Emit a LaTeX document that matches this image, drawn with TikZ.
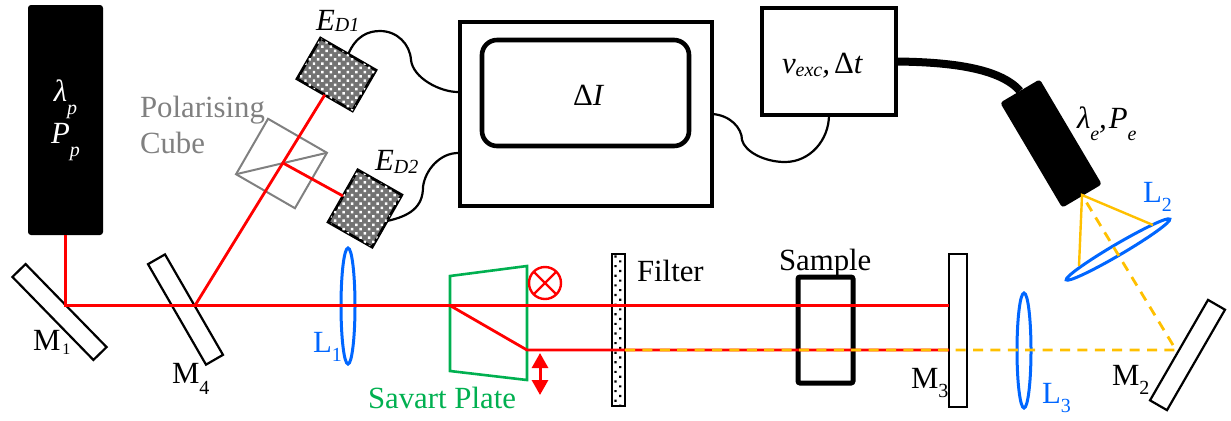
\documentclass[tikz,border=0pt]{standalone}
\usepackage{fontspec}
\setmainfont{Liberation Serif}
\usetikzlibrary{
	arrows.meta,
	patterns,
	patterns.meta,
	shapes.geometric
}
\definecolor{BeamRed}{RGB}{255,0,0}
\definecolor{BeamOrange}{RGB}{255,192,0}
\definecolor{LensBlue}{RGB}{0,102,255}
\definecolor{PlateGreen}{RGB}{0,176,80}
\newcommand{\lowsub}[2][0.32em]{\raisebox{-#1}{\fontsize{10}{10}\selectfont #2}}
\tikzset{
	mirror/.style={draw, line width=1.1pt, inner sep=0, outer sep=0},
	lens/.style={ellipse, draw=LensBlue, line width=1.5pt, inner sep=0, outer sep=0},
	detector/.style={draw, line width=1.4pt, inner sep=0, outer sep=0, fill=black!55, postaction={pattern={Dots[distance=3pt, angle=45, radius=0.85pt]}, pattern color=white}},
	blackbox/.style={fill=black, rounded corners=1.5pt, inner sep=0, outer sep=0},
	unitbox/.style={draw, line width=1.7pt, inner sep=0, outer sep=0},
	wire/.style={line width=1.1pt},
	beam/.style={BeamRed, line width=1.4pt},
	probe/.style={BeamOrange, line width=1.2pt},
	probedash/.style={BeamOrange, line width=1.4pt, dash pattern=on 5pt off 3.7pt},
	txt/.style={anchor=base west, inner sep=0, outer sep=0, font=\fontsize{15.4}{18}\selectfont}
}
\begin{document}
\begin{tikzpicture}[x=0.5pt, y=-0.5pt]
	\useasboundingbox (0,0) rectangle (1231,420);
	% sources and electronics
	\node[blackbox, minimum width=37.5pt, minimum height=115pt, text=white, align=center, font=\fontsize{15.4}{21}\selectfont] (pump) at (65.5,120) {\textit{λ}\lowsub[0.42em]{\textit{p}}\\\textit{P}\lowsub[0.42em]{\textit{p}}};
	\node[blackbox, minimum width=61pt, minimum height=23pt, rotate=-59.4] (exc) at (1051,143.5) {};
	\node[unitbox, minimum width=126pt, minimum height=92pt] (daq) at (586,114) {};
	\node[unitbox, line width=2.3pt, rounded corners=7.5pt, minimum width=103.5pt, minimum height=53pt] (delta) at (585.5,93) {};
	\node[unitbox, minimum width=67pt, minimum height=53.5pt] (gen) at (829,61.5) {};
	\node[txt] (deltatxt) at (573,105) {Δ\textit{I}};
	\node[txt] (gentxt) at (782,73) {\textit{ν}\lowsub[0.1em]{\textit{exc}}\textit{,}\hspace{2pt}Δ\textit{t}};
	% detectors and cube
	\node[detector, minimum width=32pt, minimum height=23.5pt, rotate=-30] (ED1) at (336.5,74.5) {};
	\node[detector, minimum width=25.3pt, minimum height=30pt, rotate=-29.6] (ED2) at (365,208.5) {};
	\node[draw=gray, line width=1pt, inner sep=0, outer sep=0, minimum width=34pt, minimum height=32pt, rotate=-30] (cube) at (281.5,163.5) {};
	\draw[gray, line width=1pt] (cube.south west) -- (cube.north east);
	% mirrors, lenses and plates
	\node[mirror, minimum width=58pt, minimum height=9.2pt, rotate=-45.7] (M1) at (59.5,312) {};
	\node[mirror, minimum width=58pt, minimum height=9.8pt, rotate=-60] (M4) at (185.5,309.5) {};
	\node[mirror, minimum width=9pt, minimum height=76.5pt] (M3) at (958,330.5) {};
	\node[mirror, minimum width=58pt, minimum height=9.8pt, rotate=60] (M2) at (1187.5,355) {};
	\node[lens, minimum width=7pt, minimum height=58pt] (L1) at (348,306) {};
	\node[lens, minimum width=60pt, minimum height=5.5pt, rotate=30.4] (L2) at (1118,249.5) {};
	\node[lens, minimum width=7pt, minimum height=57.5pt] (L3) at (1024,350.5) {};
	\node[draw, line width=1.3pt, inner sep=0, outer sep=0, minimum width=6.5pt, minimum height=76pt, pattern={Dots[distance=3.4pt, angle=45, radius=0.75pt]}] (filter) at (618.5,330) {};
	\node[unitbox, line width=2.5pt, rounded corners=1pt, minimum width=27.5pt, minimum height=53pt] (sample) at (825.5,330) {};
	\draw[PlateGreen, line width=1.3pt] (450,276) -- (527,266) -- (527,380) -- (450,371) -- cycle;
	% wires
	\coordinate (daqA) at (458,92);
	\coordinate (daqB) at (458,153);
	\draw[wire] (ED1.north) .. controls (356,36) and (368,31) .. (380,31) .. controls (397,31) and (410,44) .. (411,60) .. controls (413,78) and (440,92) .. (daqA);
	\draw[wire] (ED2.east) .. controls (410,216) and (423,207) .. (423,187) .. controls (425,170) and (440,153) .. (daqB);
	\draw[wire] (daq.east) .. controls (730,115) and (742,128) .. (742,140) .. controls (745,152) and (765,162) .. (785,162) .. controls (810,162) and (829,140) .. (gen.south);
	\draw[line width=4pt] (gen.east) .. controls (950,62) and (1000,68) .. (exc.west);
	% beams
	\coordinate (turnA) at (65.5,305.5);
	\coordinate (turnB) at (195,305.5);
	\coordinate (split) at (283,163);
	\coordinate (plateIn) at (450,305.5);
	\coordinate (plateOut) at (527,350);
	\coordinate (upperEnd) at (949,305.5);
	\coordinate (filterEnd) at (625,350);
	\coordinate (lowerEnd) at (949,350);
	\coordinate (bounce) at (1176,350);
	\coordinate (apex) at (1082,195);
	\coordinate (rimA) at (1153,225);
	\coordinate (rimB) at (1079,266);
	\draw[beam] (pump.south) -- (turnA) -- (upperEnd);
	\draw[beam] (turnB) -- (ED1.south);
	\draw[beam] (split) -- (ED2.west);
	\draw[beam] (plateIn) -- (plateOut) -- (lowerEnd);
	\draw[probedash] (filterEnd) -- (bounce) -- (apex);
	\draw[probe] (rimB) -- (apex) -- (rimA);
	% polarisation marks
	\node[circle, draw=BeamRed, line width=1.2pt, inner sep=0, outer sep=0, minimum size=16pt] (ox) at (545,283) {};
	\draw[BeamRed, line width=1.2pt] (ox.north west) -- (ox.south east);
	\draw[BeamRed, line width=1.2pt] (ox.north east) -- (ox.south west);
	\coordinate (arrowTop) at (540,353);
	\coordinate (arrowEnd) at (540,395);
	\draw[BeamRed, line width=1.5pt, {Triangle[length=7.5pt,width=8pt]}-{Triangle[length=7.5pt,width=8pt]}] (arrowTop) -- (arrowEnd);
	% labels
	\node[txt] (EDa) at (316,30) {\textit{E}\lowsub[0.06em]{\textit{D1}}};
	\node[txt] (EDb) at (375,170) {\textit{E}\lowsub[0.1em]{\textit{D2}}};
	\node[txt, text=gray] (polar) at (140,117) {Polarising};
	\node[txt, text=gray] (cubetxt) at (140,153) {Cube};
	\node[txt] (M1txt) at (33,350) {M\hspace{1pt}\lowsub[0.15em]{\fontsize{8}{8}\selectfont 1}};
	\node[txt] (M4txt) at (172,383) {M\lowsub[0.38em]{4}};
	\node[txt] (M3txt) at (911,388) {M\lowsub{3}};
	\node[txt] (M2txt) at (1112,385) {M\lowsub{2}};
	\node[txt, text=LensBlue] (L1txt) at (313,352) {L\lowsub{1}};
	\node[txt, text=LensBlue] (L2txt) at (1143,202) {L\lowsub{2}};
	\node[txt, text=LensBlue] (L3txt) at (1042,403) {L\lowsub{3}};
	\node[txt, text=PlateGreen] (savart) at (368,408) {Savart Plate};
	\node[txt] (filtertxt) at (637,281) {Filter};
	\node[txt] (sampletxt) at (779,270) {Sample};
	\node[txt] (exctxt) at (1077,128) {\textit{λ}\lowsub[0.4em]{\textit{e}}\textit{,}\hspace{1pt}\textit{P}\lowsub[0.4em]{\textit{e}}};
\end{tikzpicture}
\end{document}
